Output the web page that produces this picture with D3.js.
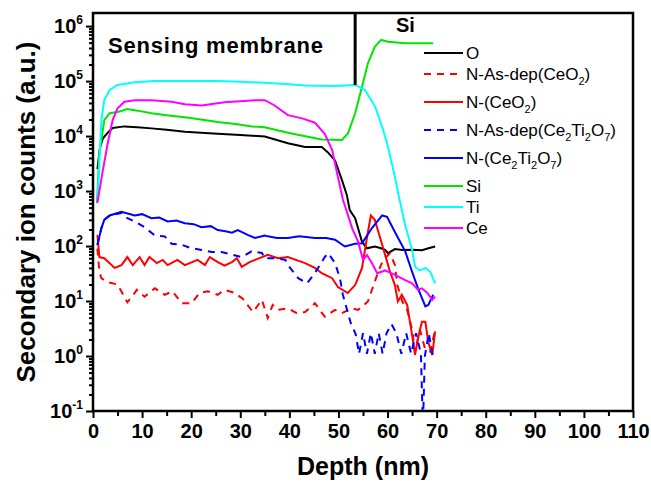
<!DOCTYPE html>
<html>
<head>
<meta charset="utf-8">
<script src="https://cdn.jsdelivr.net/npm/d3@7"></script>
<style>
  body { margin: 0; background: #fff; }
  text { font-family: Arial, "Liberation Sans", sans-serif; }
</style>
</head>
<body>
<div id="chart"></div>
<script>
// SIMS depth profiles, depth in nm, counts in a.u.
const depthO = [0.9, 1.4, 2, 3, 4, 6.4, 9, 11.9, 15, 18.7, 22, 25.4, 30, 35, 39.7, 43.2, 46.6, 47.8, 49.3, 50.7, 51.7, 52.3, 53.4, 54.8, 55.8, 57.4, 58.5, 59.5, 60.1, 61.5, 63, 65, 67, 68.5, 69.7];
const countsO = [2500, 6000, 9000, 11500, 14000, 15000, 14500, 13800, 13000, 12000, 11500, 11000, 10500, 9800, 7400, 6300, 6300, 5100, 3600, 1600, 850, 450, 320, 120, 91, 98, 92, 85, 74, 88, 85, 86, 84, 92, 98];

const depthNAsCeO2 = [0.9, 1.3, 1.7, 3, 5, 7, 8.5, 8.9, 10.5, 12.6, 14.6, 16.2, 18.1, 20.1, 21.7, 23.4, 25.4, 26.8, 28.9, 30.5, 32.6, 34.4, 35.6, 36.6, 37.7, 39.7, 41.5, 43.2, 45.2, 47.2, 49.3, 50.7, 52.7, 54, 56, 58.1, 59.1, 60.5, 61.5, 62, 63, 64, 65, 65.6, 66.6, 67.7, 68.7, 69.7];
const countsNAsCeO2 = [90, 34, 26, 22, 20, 9.5, 14, 16, 12, 17, 13, 15, 9.1, 9.1, 14, 15, 13, 16, 14, 11, 6.3, 10.5, 4.9, 8.5, 6.9, 7.4, 6, 6.3, 9.1, 5.2, 6.9, 6, 7.4, 6.9, 9.8, 34, 56, 74, 45, 19.5, 9.8, 6.9, 3, 1.2, 3, 1.3, 1.2, 3];

const depthNCeO2 = [0.9, 1.3, 2.3, 4.4, 5.8, 7, 8.1, 9.5, 10.5, 11.5, 13, 14.2, 15.2, 17.2, 18.7, 21.3, 22.8, 23.8, 25.4, 26.8, 28.3, 29.3, 30.3, 31.9, 33, 35.6, 37.7, 39.7, 43.2, 45.2, 46.6, 48.7, 49.9, 51.9, 53.4, 54.8, 55.8, 56.6, 57.4, 58.5, 59.5, 60.5, 61.5, 62.1, 62.9, 64, 65, 65.6, 66.2, 67, 67.7, 68.3, 69.1, 69.7];
const countsNCeO2 = [160, 63, 60, 40, 45, 63, 45, 63, 45, 63, 49, 56, 45, 56, 45, 56, 45, 63, 51, 44, 51, 60, 42, 51, 56, 69, 60, 63, 49, 40, 32, 26, 18, 14, 19.5, 40, 140, 360, 300, 140, 69, 34, 19.5, 9.8, 13, 8.5, 2.4, 1.05, 2.1, 4.2, 4.2, 1.8, 1.05, 2.8];

const depthNAsCeTiO = [0.9, 1.7, 2.3, 3.4, 5.8, 6.4, 8.5, 10.5, 12.6, 14.6, 16, 18.1, 20.1, 22.1, 24.2, 26.2, 28.3, 30.3, 32.3, 34.4, 35, 37, 39.2, 39.7, 41.8, 43.6, 45.2, 47.2, 47.9, 49.3, 50.3, 50.9, 52.5, 53.5, 54.2, 55, 55.8, 56.6, 57.4, 58.2, 59, 59.8, 60.8, 61.8, 62.8, 63.8, 64.8, 65.8, 66.8, 67.2, 67.6, 68.4, 69.2, 69.7];
const countsNAsCeTiO = [105, 210, 300, 360, 400, 340, 280, 220, 155, 150, 110, 105, 91, 85, 78, 78, 70, 63, 80, 75, 60, 60, 56, 45, 26, 21, 32, 63, 74, 49, 26, 13, 4, 2.5, 1.1, 2.6, 1.1, 2.6, 1.1, 2.6, 1.1, 2.6, 3.8, 2.6, 1.1, 2.6, 1.1, 2.6, 1.1, 0.05, 1.0, 2.6, 1.0, 1.0];

const depthNCeTiO = [0.9, 1.7, 2.3, 3.4, 5.8, 8.5, 10, 11.9, 13.5, 15.2, 17, 18.7, 20.5, 22.1, 24, 25.4, 27, 28.3, 29.5, 31.5, 33, 35, 35.6, 37.5, 39.7, 42, 45.2, 47.5, 49.3, 51.3, 53.4, 54.8, 56.8, 58.9, 59.9, 61.5, 63.6, 65, 66.2, 67.7, 68.3, 69.3];
const countsNCeTiO = [105, 210, 300, 360, 420, 360, 380, 320, 330, 280, 290, 260, 250, 220, 230, 195, 185, 175, 195, 160, 140, 155, 150, 140, 140, 150, 140, 140, 130, 98, 110, 112, 210, 360, 340, 180, 80, 34, 17, 8, 8.5, 13];

const depthSi = [0.8, 1.3, 2.3, 3.4, 5, 7, 9.1, 11.9, 15, 18.7, 22, 25.4, 29, 32.4, 35, 39.7, 43, 46.6, 50.7, 51.9, 53.4, 54.8, 56, 57.4, 58.7, 60.1, 63.6, 66.5, 69.3];
const countsSi = [600, 4900, 19500, 26000, 27500, 31000, 29000, 26000, 24000, 22000, 20000, 18000, 16500, 15000, 14500, 11500, 10000, 8700, 8500, 11000, 26000, 79000, 210000, 420000, 560000, 520000, 490000, 490000, 490000];

const depthTi = [0.9, 1.7, 2.3, 3.4, 5, 8.5, 12.6, 18.7, 25, 28.9, 35, 40, 43.2, 49.3, 53.4, 55.4, 57.5, 59.1, 60.1, 61.5, 62.3, 63.5, 65, 65.6, 66.6, 67.7, 68.7, 69.7];
const countsTi = [630, 19000, 45000, 69000, 85000, 95000, 100000, 100000, 100000, 98000, 93000, 88000, 83000, 81000, 85000, 69000, 34000, 13000, 6300, 1800, 800, 260, 85, 42, 36, 40, 34, 21];

const depthCe = [0.9, 1.9, 3, 4, 5, 6.4, 8.5, 11.9, 16, 18.7, 22.1, 26.8, 30, 33, 35, 37, 39.7, 42.6, 45.2, 47.2, 48.7, 49.9, 50.9, 52.8, 54, 55, 55.8, 56.8, 57.9, 59.5, 61.5, 63.6, 65, 66.2, 67, 68.1, 69.1, 69.7];
const countsCe = [620, 2100, 7400, 19500, 32000, 42000, 45000, 45000, 42000, 38000, 36000, 41000, 43000, 45000, 45000, 36000, 24000, 21000, 17500, 11000, 5600, 1800, 700, 210, 120, 56, 69, 49, 32, 36, 30, 24, 21, 16, 17, 14, 10.5, 12];

const seriesNames = ["O", "N-As-dep(CeO_2)", "N-(CeO_2)", "N-As-dep(Ce_2Ti_2O_7)", "N-(Ce_2Ti_2O_7)", "Si", "Ti", "Ce"];
const seriesColors = ["#000000", "#ff0000", "#ff0000", "#0000ff", "#0000ff", "#00e600", "#00ffff", "#ff00ff"];
const seriesDashed = [false, true, false, true, false, false, false, false];
const seriesDepths = [depthO, depthNAsCeO2, depthNCeO2, depthNAsCeTiO, depthNCeTiO, depthSi, depthTi, depthCe];
const seriesCounts = [countsO, countsNAsCeO2, countsNCeO2, countsNAsCeTiO, countsNCeTiO, countsSi, countsTi, countsCe];

const xTicks = d3.range(0, 111, 10);
const xMinorTicks = d3.range(5, 111, 10);
const yExponents = [-1, 0, 1, 2, 3, 4, 5, 6];

// interface between membrane and Si substrate
const interfaceDepth = 53.4;
const interfaceBottom = 85000;

const width = 651, height = 483;
const plot = { left: 93, right: 633, top: 13, bottom: 411 };

const svg = d3.select("#chart").append("svg")
  .attr("width", width)
  .attr("height", height);

const x = d3.scaleLinear().domain([0, 110]).range([plot.left, plot.right]);
const y = d3.scaleLog().domain([0.1, 1.73e6]).range([plot.bottom, plot.top]);

svg.append("clipPath").attr("id", "clip")
  .append("rect")
  .attr("x", plot.left).attr("y", plot.top)
  .attr("width", plot.right - plot.left).attr("height", plot.bottom - plot.top);

// data lines
const line = d3.line()
  .x(d => x(d[0]))
  .y(d => y(d[1]));

const lines = svg.append("g").attr("clip-path", "url(#clip)");
seriesNames.forEach((name, i) => {
  const pts = seriesDepths[i].map((d, j) => [d, seriesCounts[i][j]]);
  lines.append("path")
    .datum(pts)
    .attr("fill", "none")
    .attr("stroke", seriesColors[i])
    .attr("stroke-width", 2)
    .attr("stroke-dasharray", seriesDashed[i] ? "7,6" : null)
    .attr("d", line);
});

// axes
const xAxis = svg.append("g")
  .attr("transform", `translate(0, ${plot.bottom})`)
  .call(d3.axisBottom(x).tickValues(xTicks).tickSize(7).tickPadding(6));
svg.append("g")
  .attr("transform", `translate(0, ${plot.bottom})`)
  .call(d3.axisBottom(x).tickValues(xMinorTicks).tickSize(5).tickFormat(""));

xAxis.selectAll("text")
  .style("font-size", "20px")
  .style("font-weight", "bold")
  .attr("fill", "#000");

const yMinor = [];
yExponents.forEach(e => {
  for (let k = 2; k <= 9; k++) {
    const v = k * Math.pow(10, e);
    if (v < 1.73e6) yMinor.push(v);
  }
});
svg.append("g")
  .attr("transform", `translate(${plot.left}, 0)`)
  .call(d3.axisLeft(y).tickValues(yExponents.map(e => Math.pow(10, e))).tickSize(7).tickFormat(""));
svg.append("g")
  .attr("transform", `translate(${plot.left}, 0)`)
  .call(d3.axisLeft(y).tickValues(yMinor).tickSize(4).tickFormat(""));

svg.selectAll(".domain").remove();
svg.selectAll(".tick line").attr("stroke", "#000").attr("stroke-width", 2);

// y tick labels 10^n
yExponents.forEach(e => {
  const t = svg.append("text")
    .attr("x", plot.left - 10)
    .attr("y", y(Math.pow(10, e)) + 7)
    .attr("text-anchor", "end")
    .style("font-weight", "bold")
    .style("font-size", "20px");
  t.append("tspan").text("10");
  t.append("tspan").attr("dy", -9).style("font-size", "12px").text(e);
});

// frame
svg.append("rect")
  .attr("x", plot.left).attr("y", plot.top)
  .attr("width", plot.right - plot.left).attr("height", plot.bottom - plot.top)
  .attr("fill", "none")
  .attr("stroke", "#000")
  .attr("stroke-width", 2.5);

// axis titles
svg.append("text")
  .attr("x", (plot.left + plot.right) / 2)
  .attr("y", 475)
  .attr("text-anchor", "middle")
  .style("font-weight", "bold")
  .style("font-size", "25px")
  .text("Depth (nm)");

svg.append("text")
  .attr("transform", `translate(35, ${(plot.top + plot.bottom) / 2}) rotate(-90)`)
  .attr("text-anchor", "middle")
  .style("font-weight", "bold")
  .style("font-size", "26px")
  .text("Secondary ion counts (a.u.)");

// annotations
svg.append("line")
  .attr("x1", x(interfaceDepth)).attr("x2", x(interfaceDepth))
  .attr("y1", plot.top).attr("y2", y(interfaceBottom))
  .attr("stroke", "#000")
  .attr("stroke-width", 3);

svg.append("text")
  .attr("x", 108).attr("y", 53)
  .style("font-weight", "bold")
  .style("font-size", "22px")
  .style("letter-spacing", "0.8px")
  .text("Sensing membrane");

svg.append("text")
  .attr("x", 396).attr("y", 32)
  .style("font-weight", "bold")
  .style("font-size", "20px")
  .text("Si");

// legend
const legend = svg.append("g");
let ly = 53;
seriesNames.forEach((name, i) => {
  if (i > 0) ly += seriesNames[i - 1].includes("_") ? 28 : 21;
  legend.append("line")
    .attr("x1", 424).attr("x2", 463)
    .attr("y1", ly).attr("y2", ly)
    .attr("stroke", seriesColors[i])
    .attr("stroke-width", 2)
    .attr("stroke-dasharray", seriesDashed[i] ? "7,6" : null);
  const t = legend.append("text")
    .attr("x", 466)
    .attr("y", ly + 6)
    .style("font-size", "17px");
  const parts = name.split(/_(\d)/);
  parts.forEach((p, j) => {
    if (j % 2 === 1) {
      t.append("tspan").attr("dy", 5).style("font-size", "11px").text(p);
    } else if (p) {
      t.append("tspan").attr("dy", j > 0 ? -5 : 0).text(p);
    }
  });
});
</script>
</body>
</html>
